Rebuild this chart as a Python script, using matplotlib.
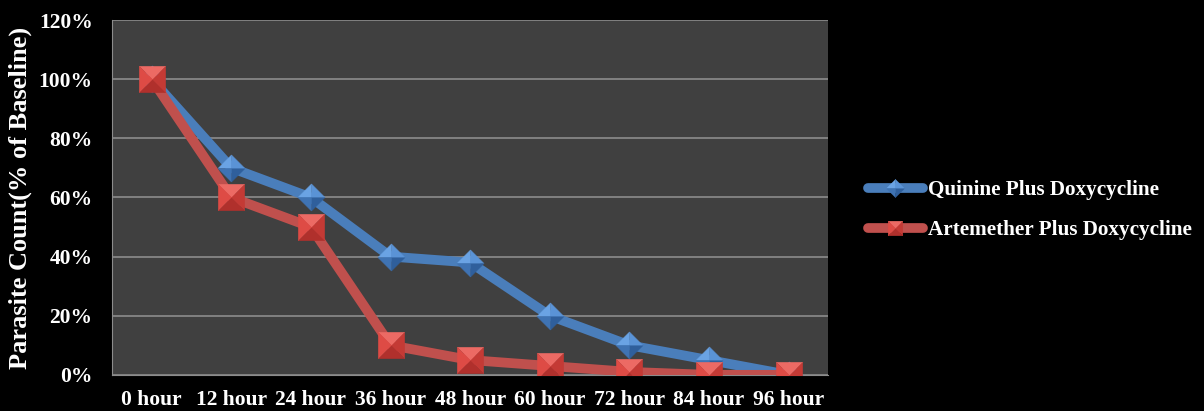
import numpy as np
import matplotlib.pyplot as plt
from matplotlib.lines import Line2D
from matplotlib.legend_handler import HandlerTuple
from matplotlib.ticker import FuncFormatter

hours = ['0 hour', '12 hour', '24 hour', '36 hour', '48 hour',
         '60 hour', '72 hour', '84 hour', '96 hour']
quinine = [100, 70, 60, 40, 38, 20, 10, 5, 0]
artemether = [100, 60, 50, 10, 5, 3, 1, 0, 0]

plt.rcParams['font.family'] = ['Liberation Serif', 'DejaVu Serif']
plt.rcParams['font.weight'] = 'bold'

fig = plt.figure(figsize=(12.04, 4.11), dpi=100, facecolor='black')
ax = fig.add_axes([0.093, 0.088, 0.595, 0.863])
ax.set_facecolor('#404040')

x = np.arange(len(hours))

# bevelled markers: one triangle per facet, each a custom marker path
sq = {'top': [(-1, 1), (1, 1), (0, 0)], 'right': [(1, 1), (1, -1), (0, 0)],
      'bottom': [(1, -1), (-1, -1), (0, 0)], 'left': [(-1, -1), (-1, 1), (0, 0)]}
dm = {'ul': [(-1, 0), (0, 1), (0, 0)], 'ur': [(0, 1), (1, 0), (0, 0)],
      'lr': [(1, 0), (0, -1), (0, 0)], 'll': [(0, -1), (-1, 0), (0, 0)]}
red_faces = {'top': '#ec6a64', 'left': '#de4b45', 'right': '#c43a35', 'bottom': '#b0302c'}
blue_faces = {'ul': '#6aa3e4', 'ur': '#5a93d6', 'll': '#3f73b3', 'lr': '#2f5f9c'}


def series(xs, ys, color, faces, shapes, ms, zorder):
    ax.plot(xs, ys, color=color, lw=7, solid_capstyle='round',
            solid_joinstyle='round', zorder=zorder)
    for key, verts in shapes.items():
        ax.plot(xs, ys, ls='none', marker=verts, ms=ms,
                mfc=faces[key], mec=faces[key], mew=0.3, zorder=zorder + 0.1)


series(x, quinine, '#4a7ebb', blue_faces, dm, 19.5, 3)
series(x, artemether, '#c0504d', red_faces, sq, 19, 4)

ax.set_xlim(-0.5, len(hours) - 0.5)
ax.set_ylim(0, 120)
ax.set_yticks(np.arange(0, 121, 20))
ax.yaxis.set_major_formatter(FuncFormatter(lambda v, p: f'{v:.0f}%'))
ax.set_xticks(x)
ax.set_xticklabels(hours)
ax.grid(axis='y', color='#8c8c8c', lw=1.2)
ax.set_axisbelow(True)
ax.tick_params(colors='white', labelsize=15.5, length=0)
ax.tick_params(axis='x', pad=11)
ax.tick_params(axis='y', pad=14)
for s in ax.spines.values():
    s.set_visible(False)
ax.spines['left'].set_visible(True)
ax.spines['left'].set_color('#8c8c8c')
ax.spines['bottom'].set_visible(True)
ax.spines['bottom'].set_color('#8c8c8c')

ax.set_ylabel('Parasite Count(% of Baseline)', color='white', fontsize=19,
              fontweight='bold', labelpad=5)


# legend handles: a line with a smaller bevelled marker on top
def legend_handle(color, faces, shapes, ms):
    parts = [Line2D([], [], color=color, lw=7, solid_capstyle='round')]
    for key, verts in shapes.items():
        parts.append(Line2D([], [], ls='none', marker=verts, ms=ms,
                            mfc=faces[key], mec=faces[key], mew=0.3))
    return tuple(parts)


handles = [legend_handle('#4a7ebb', blue_faces, dm, 13),
           legend_handle('#c0504d', red_faces, sq, 10.5)]
leg = fig.legend(handles, ['Quinine Plus Doxycycline', 'Artemether Plus Doxycycline'],
                 handler_map={tuple: HandlerTuple(ndivide=1, pad=0)},
                 loc='center left', bbox_to_anchor=(0.705, 0.488), frameon=False,
                 fontsize=15.2, handlelength=2.6, handletextpad=0.25,
                 labelspacing=0.95, numpoints=1)
for t in leg.get_texts():
    t.set_color('white')
    t.set_fontweight('bold')

fig.savefig('out.png', facecolor='black')
